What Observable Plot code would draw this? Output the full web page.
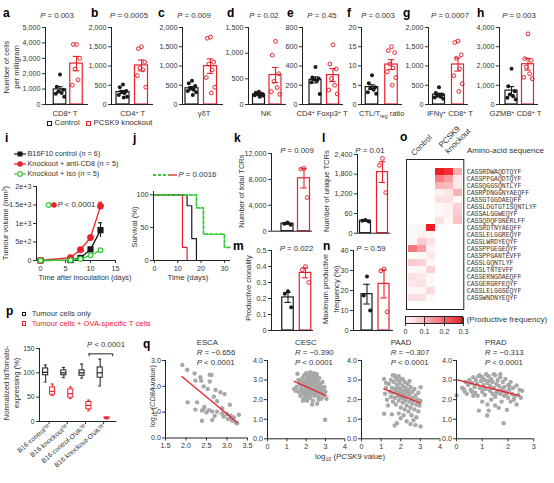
<!DOCTYPE html>
<html><head><meta charset="utf-8">
<script src="https://cdn.jsdelivr.net/npm/d3@7"></script>
<script src="https://cdn.jsdelivr.net/npm/@observablehq/plot@0.6"></script>
<style>
body{margin:0;background:#fff;}
#fig{position:relative;width:554px;height:483px;overflow:hidden;background:#fff;font-family:"Liberation Sans",Arial,sans-serif;color:#333;}
.t{position:absolute;white-space:nowrap;}
sup,sub{font-size:68%;line-height:0;}
sup{vertical-align:0.45em;} sub{vertical-align:-0.3em;}
</style></head><body><div id="fig"></div>
<script>
// ---------------- DATA ----------------
// a–h: cells per mg (control vs PCSK9 knockout)
const aCtrl = [1950, 1150, 950, 850, 750, 700, 500], aKO = [3900, 3900, 3000, 2300, 1600, 1250];
const bCtrl = [520, 450, 350, 330, 300, 250, 200, 180], bKO = [1500, 1450, 1100, 950, 900, 750, 450];
const cCtrl = [620, 550, 480, 420, 380, 350, 320, 250], cKO = [1750, 1720, 1100, 1050, 900, 700, 450, 300];
const dCtrl = [250, 230, 210, 200, 190, 180, 170, 150], dKO = [1230, 960, 600, 450, 330, 250, 200];
const eCtrl = [390, 280, 270, 260, 250, 230, 110], eKO = [620, 420, 370, 270, 200, 150, 110];
const fCtrl = [7.6, 5.5, 4.5, 4.2, 3.8, 3.2, 2.8], fKO = [15, 14, 13.5, 10.5, 9.5, 8.5, 7, 5];
const gCtrl = [450, 300, 260, 230, 200, 180, 150], gKO = [1650, 1610, 1290, 1200, 930, 750, 540, 340];
const hCtrl = [1860, 950, 690, 520, 430, 350, 260], hKO = [3670, 2380, 2290, 1950, 1600, 1410, 1340];
const aTicks = [0, 1000, 2000, 3000, 4000, 5000], bTicks = [0, 500, 1000, 1500, 2000];
const cTicks = [0, 500, 1000, 1500, 2000], dTicks = [0, 500, 1000, 1500], eTicks = [0, 200, 400, 600, 800];
const fTicks = [0, 5, 10, 15, 20], gTicks = [0, 500, 1000, 1500, 2000], hTicks = [0, 1000, 2000, 3000, 4000];
// k–n: TCR sequencing
const kCtrl = [1350, 1150, 1000], kKO = [9700, 9600, 5200];
const lCtrl = [400, 380, 360], lKO = [2280, 2070, 1240];
const mCtrl = [0.245, 0.23, 0.145], mKO = [0.40, 0.38, 0.30];
const nCtrl = [27, 17.5, 10], nKO = [30.8, 29.8, 9.3];
const kTicks = [0, 4000, 8000, 12000];
const lTicks = [0, 600, 1200, 1800, 2400], lTickLabels = ["0", "60", "1,200", "1,800", "2,400"];
const mTicks = [0, 0.1, 0.2, 0.3, 0.4, 0.5], nTicks = [0, 10, 20, 30, 40];
// i: tumour growth
const iDays = [0, 6, 8, 10, 12];
const iCtrlMean = [0, 10, 70, 300, 820], iCtrlSem = [0, 8, 15, 50, 200];
const iCd8Mean = [0, 80, 290, 620, 1470], iCd8Sem = [0, 15, 30, 60, 105];
const iIsoMean = [0, 10, 40, 140, 280], iIsoSem = [0, 5, 10, 25, 40];
const iXTicks = [0, 5, 10, 15], iYTicks = [0, 500, 1000, 1500, 2000];
// j: survival
const jRedT = [0, 12, 14], jRedS = [100, 20, 0];
const jBlackT = [0, 14, 16, 18], jBlackS = [100, 83.3, 33.3, 0];
const jIsoT = [0, 18, 21, 30, 32.5], jIsoS = [100, 80, 40, 20, 20];
const jXTicks = [0, 10, 20, 30], jYTicks = [0, 50, 100];
// o: heatmap
const seqs = ["CASSRDWAQDTQYF","CASSPPGAQDTQYF","CASSQGGSQNTLYF","CASRPDNGGNYAEQFF","CASSGTGGDAEQFF","CASSLDGTGTISQNTLYF","CASSALGGWEQYF","CASSQDQFSNERLFF","CASSRDTNYAEQFF","CASSLELGGREQYF","CASSLWRDYEQYF","CASSPPGEGEQYF","CASSPPGANTEVFF","CASSLGQNTLYF","CASSLTNTEVFF","CASSERNGDAEQFF","CASGERGRFEQYF","CASSLELGGSEQYF","CASSWNDNYEQYF"];
const hmCols = ["Control 1", "Control 2", "Control 3", "Knockout 1", "Knockout 2", "Knockout 3"];
const ctl1 = [0,0,0,0,0,0,0,0,0.01,0.01,0.01,0.18,0.0,0.07,0.01,0.04,0.03,0.01,0.04];
const ctl2 = [0,0,0,0,0,0,0,0,0.01,0.02,0.07,0.13,0.01,0.06,0.01,0.03,0.04,0.01,0.04];
const ctl3 = [0,0,0,0,0,0,0,0,0.30,0.01,0.04,0.02,0.03,0.01,0.06,0.01,0.01,0.05,0.01];
const ko1 = [0.30,0.17,0.10,0.02,0.04,0.01,0.01,0.04,0,0,0,0,0,0,0,0,0,0,0];
const ko2 = [0.28,0.13,0.09,0.03,0.04,0.02,0.02,0.01,0,0,0,0,0,0,0,0,0,0,0];
const ko3 = [0.11,0.03,0.03,0.10,0.01,0.06,0.07,0.08,0,0,0,0,0,0,0,0,0,0,0];
const cbTicks = [0, 0.1, 0.2, 0.3];
// p: box plots
const pGroups = ["B16 control\u1D40\u1D3F", "B16 knockout\u1D40\u1D3F", "B16 control-OVA\u1D40\u1D3F", "B16 knockout-OVA\u1D40\u1D3F"];
const pTumMin = [81, 90, 89, 73], pTumQ1 = [95, 95, 94, 90], pTumMed = [101, 100, 100, 100], pTumQ3 = [109, 105, 105, 111], pTumMax = [116, 111, 118, 128];
const pOvaMin = [53, 47, 22, 5], pOvaQ1 = [55, 49, 25, 6], pOvaMed = [62, 57, 33, 7], pOvaQ3 = [70, 66, 40, 8.5], pOvaMax = [77, 71, 44, 9];
const pYTicks = [0, 50, 100, 150];
// q: correlations
const escaPts = [[1.91,2.83],[2.03,2.64],[2.21,2.50],[2.58,2.45],[2.62,2.44],[2.35,2.35],[2.23,2.22],[2.37,2.22],[2.58,2.19],[2.43,2.00],[2.53,1.90],[2.72,1.86],[2.84,1.77],[2.94,1.70],[2.68,1.60],[2.27,1.38],[2.76,1.42],[3.07,1.29],[2.23,1.10],[2.39,1.06],[2.43,1.12],[2.56,1.08],[2.64,1.03],[2.50,0.99],[2.76,1.02],[2.88,0.95],[3.00,0.93],[3.09,0.86],[2.92,0.83],[3.17,0.80],[3.29,0.90],[2.39,0.67],[2.64,0.70],[3.02,0.74],[3.13,0.67],[3.21,0.60],[3.25,0.57],[2.04,1.38],[2.88,1.15],[3.10,0.75],[2.45,1.20],[2.70,0.85]];
const cescPts = [[1.38,2.55],[1.55,3.32],[1.6,2.4],[1.65,2.8],[1.7,2.2],[1.72,2.95],[1.75,2.6],[1.8,3.1],[1.8,2.35],[1.85,2.75],[1.85,2.05],[1.9,3.25],[1.9,2.5],[1.92,2.9],[1.95,2.2],[1.98,2.65],[2.0,3.35],[2.0,3.0],[2.0,2.4],[2.02,2.8],[2.05,2.55],[2.05,1.95],[2.08,3.15],[2.1,2.7],[2.1,2.3],[2.12,2.95],[2.15,3.3],[2.15,2.45],[2.18,2.6],[2.2,3.4],[2.2,2.85],[2.2,2.1],[2.22,3.1],[2.25,2.5],[2.25,2.7],[2.28,2.95],[2.3,3.25],[2.3,2.3],[2.32,2.6],[2.35,3.05],[2.35,2.8],[2.38,2.4],[2.4,3.2],[2.4,2.65],[2.42,2.2],[2.45,2.9],[2.45,2.5],[2.48,3.0],[2.5,2.75],[2.5,2.3],[2.52,3.15],[2.55,2.6],[2.58,2.85],[2.6,2.4],[2.6,2.95],[2.62,2.15],[2.65,2.7],[2.68,3.1],[2.7,2.5],[2.72,2.3],[2.75,2.8],[2.78,2.05],[2.8,2.6],[2.82,2.35],[2.85,2.9],[2.88,2.5],[2.9,2.2],[2.95,2.65],[3.0,2.4],[3.05,2.04],[2.98,0.97],[2.31,1.75],[1.83,1.95],[2.57,1.79],[1.5,2.65],[1.45,2.45],[1.7,2.5],[2.0,2.15],[2.75,2.05],[2.35,1.95],[1.95,2.0],[2.65,2.0],[1.6,3.0],[1.75,2.9],[2.05,3.2],[2.55,3.3],[2.4,3.35],[1.9,2.3],[2.15,2.2],[2.6,2.55]];
const paadPts = [[1.15,3.06],[1.15,1.28],[1.69,3.23],[1.69,0.68],[3.01,0.63],[3.01,2.63],[1.2,2.3],[1.25,2.6],[1.3,2.0],[1.4,2.8],[1.45,2.4],[1.5,2.15],[1.5,3.0],[1.55,2.6],[1.6,1.9],[1.6,2.35],[1.65,2.9],[1.7,2.55],[1.7,2.1],[1.75,3.1],[1.75,1.75],[1.8,2.4],[1.8,2.75],[1.85,2.2],[1.85,3.0],[1.9,1.95],[1.9,2.6],[1.95,2.35],[1.95,2.85],[2.0,1.6],[2.0,2.1],[2.0,2.5],[2.05,3.05],[2.05,2.3],[2.1,1.85],[2.1,2.7],[2.15,2.05],[2.15,2.45],[2.2,2.9],[2.2,1.5],[2.2,2.25],[2.25,2.6],[2.25,1.95],[2.3,2.4],[2.3,1.7],[2.35,2.8],[2.35,2.15],[2.4,1.4],[2.4,2.5],[2.45,1.9],[2.45,2.3],[2.5,2.65],[2.5,1.6],[2.55,2.1],[2.55,1.2],[2.6,2.4],[2.6,1.8],[2.65,2.0],[2.65,0.95],[2.7,2.55],[2.7,1.5],[2.75,2.2],[2.8,1.75],[2.8,1.1],[2.85,2.0],[2.9,1.4],[2.9,2.35],[2.95,1.7],[3.0,1.95],[1.55,1.25],[1.8,0.8],[2.0,1.05],[2.3,0.9],[2.5,0.75],[2.75,0.7],[1.9,1.3],[2.15,1.2],[1.35,1.7],[1.25,2.85],[1.6,3.25],[1.9,3.2],[2.1,3.05],[2.45,2.95]];
const pradPts = [[0.0,2.21],[0.32,2.41],[0.22,2.6],[0.35,2.9],[0.45,2.75],[0.5,3.0],[0.55,2.5],[0.6,2.85],[0.65,3.15],[0.7,2.65],[0.72,2.35],[0.75,3.0],[0.8,2.8],[0.82,2.2],[0.85,3.2],[0.87,1.44],[0.9,2.6],[0.95,2.95],[1.0,2.4],[1.0,3.15],[1.05,2.75],[1.1,2.25],[1.1,3.0],[1.15,2.55],[1.19,1.19],[1.2,2.85],[1.25,1.44],[1.25,3.2],[1.3,2.45],[1.3,2.7],[1.35,3.05],[1.4,2.3],[1.4,2.9],[1.45,2.6],[1.5,3.25],[1.5,2.15],[1.55,2.8],[1.6,2.45],[1.6,3.0],[1.64,1.58],[1.65,2.7],[1.7,2.3],[1.7,3.15],[1.75,2.55],[1.8,2.9],[1.83,0.8],[1.85,2.2],[1.85,2.65],[1.9,3.05],[1.9,2.4],[1.96,1.48],[2.0,2.75],[2.0,2.1],[2.05,2.5],[2.1,2.9],[2.1,1.9],[2.15,2.3],[2.2,2.6],[2.22,2.0],[2.25,2.15],[2.33,1.75],[2.33,2.72],[2.45,2.5],[2.4,2.25],[2.5,2.1],[1.5,1.7],[1.75,1.9],[1.2,1.75],[1.0,1.9],[0.65,2.2],[0.4,2.3],[1.35,2.0],[1.95,2.3],[1.45,3.3],[1.15,3.3],[0.9,3.25],[1.7,3.3],[1.25,2.95],[0.6,2.4],[1.55,2.35],[1.8,2.45],[2.05,2.7],[1.05,2.55],[2.55,2.45],[0.28,2.55]];
const escaFit = [[1.9, 2.38], [3.25, 0.6]], cescFit = [[1.38, 2.93], [3.05, 2.2]];
const paadFit = [[1.13, 2.55], [3.0, 1.82]], pradFit = [[0, 3.02], [2.42, 2.21]];

// ---------------- STYLE / HELPERS ----------------
const fig = document.getElementById("fig");
const BLACK = "#1a1a1a", RED = "#e8212b", GREEN = "#35cc35", GREY = "#a8a8a8", HEATRED = "#ee1c25";
const FONT = '"Liberation Sans", Arial, sans-serif';
const baseStyle = {fontFamily: FONT, fontSize: "7.2px", color: "#333", background: "transparent", overflow: "visible"};

function place(el, left, top) {
  el.style.position = "absolute"; el.style.left = left + "px"; el.style.top = top + "px";
  fig.append(el); return el;
}
function txt(html, x, yc, o = {}) {
  const size = o.size || 7.5;
  const d = document.createElement("div");
  d.className = "t"; d.innerHTML = html;
  d.style.fontSize = size + "px"; d.style.lineHeight = size + "px";
  d.style.left = x + "px"; d.style.top = (yc - size / 2) + "px";
  if (o.bold) d.style.fontWeight = "bold";
  if (o.color) d.style.color = o.color;
  const a = o.anchor || "start";
  if (a === "middle") d.style.transform = "translateX(-50%)";
  if (a === "end") d.style.transform = "translateX(-100%)";
  fig.append(d); return d;
}
function vtxt(html, cx, cy, o = {}) {
  const size = o.size || 7.5;
  const d = document.createElement("div");
  d.className = "t"; d.innerHTML = html;
  d.style.fontSize = size + "px"; d.style.lineHeight = (o.lh || size) + "px";
  d.style.textAlign = "center";
  d.style.left = cx + "px"; d.style.top = cy + "px";
  d.style.transform = "translate(-50%,-50%) rotate(-90deg)";
  fig.append(d); return d;
}
function letter(ch, x, baseline) {
  const size = 12;
  const d = txt(ch, x, 0, {size, bold: true, color: "#000"});
  d.style.top = (baseline - 0.85 * size) + "px";
}
function glyph(x, y, w, h, inner) {
  const s = document.createElementNS("http://www.w3.org/2000/svg", "svg");
  s.setAttribute("width", w); s.setAttribute("height", h);
  s.innerHTML = inner; s.style.overflow = "visible";
  return place(s, x, y);
}
function box(x, y, w, h, color) {
  const d = document.createElement("div");
  d.style.width = w + "px"; d.style.height = h + "px";
  d.style.border = "1px solid " + color; d.style.boxSizing = "border-box";
  return place(d, x, y);
}

// ---------------- BAR + DOT PANELS ----------------
function barPanel(c) {
  const mL = 30, mR = 3, mT = 4, mB = 4;
  const H = c.bottom - c.top;
  const groups = [{pos: c.cC, vals: c.ctrl, color: BLACK}, {pos: c.cK, vals: c.ko, color: RED}];
  const summ = groups.map(g => {
    const m = d3.mean(g.vals), s = d3.deviation(g.vals) / Math.sqrt(g.vals.length);
    return {pos: g.pos, color: g.color, mean: m, lo: m - s, hi: m + s};
  });
  const spread = [0, -3.2, 3.2, -1.6, 1.6, -4.2, 4.2, 0.8];
  const pts = g => [...g.vals].sort(d3.descending).map((v, i) => ({x: g.pos + spread[i % spread.length], y: v}));
  const bw = c.bw, cap = 3.2;
  const svg = Plot.plot({
    width: mL + c.W + mR, height: mT + H + mB,
    marginLeft: mL, marginRight: mR, marginTop: mT, marginBottom: mB,
    style: baseStyle,
    x: {domain: [0, c.W], axis: null},
    y: {domain: [0, c.yMax], ticks: c.yTicks, tickFormat: c.yFmt || d3.format(","), tickSize: 3, tickPadding: 2, label: null},
    marks: [
      Plot.rect(summ, {x1: d => d.pos - bw / 2, x2: d => d.pos + bw / 2, y1: 0, y2: "mean", fill: "white", stroke: d => d.color, strokeWidth: 1.2}),
      Plot.ruleX(summ, {x: "pos", y1: "lo", y2: "hi", stroke: d => d.color, strokeWidth: 1.1}),
      Plot.ruleY(summ, {y: "hi", x1: d => d.pos - cap, x2: d => d.pos + cap, stroke: d => d.color, strokeWidth: 1.1}),
      Plot.ruleY(summ, {y: "lo", x1: d => d.pos - cap, x2: d => d.pos + cap, stroke: d => d.color, strokeWidth: 1.1}),
      Plot.dot(pts(groups[0]), {x: "x", y: "y", r: 2, fill: BLACK}),
      Plot.dot(pts(groups[1]), {x: "x", y: "y", r: 1.9, stroke: RED, strokeWidth: 1, fill: "none"}),
      Plot.ruleX([0], {stroke: "#222"}),
      Plot.ruleY([0], {stroke: "#222"})
    ]
  });
  place(svg, c.axisX - mL, c.top - mT);
}
const R1T = 27, R1B = 104;
barPanel({ctrl: aCtrl, ko: aKO, yMax: 5000, yTicks: aTicks, axisX: 45, top: R1T, bottom: R1B, W: 43, cC: 14.5, cK: 31, bw: 12.5});
barPanel({ctrl: bCtrl, ko: bKO, yMax: 2000, yTicks: bTicks, axisX: 111, top: R1T, bottom: R1B, W: 42, cC: 11.5, cK: 30, bw: 13});
barPanel({ctrl: cCtrl, ko: cKO, yMax: 2000, yTicks: cTicks, axisX: 182, top: R1T, bottom: R1B, W: 41, cC: 9.5, cK: 28, bw: 13});
barPanel({ctrl: dCtrl, ko: dKO, yMax: 1500, yTicks: dTicks, axisX: 248, top: R1T, bottom: R1B, W: 38, cC: 10.5, cK: 27, bw: 12});
barPanel({ctrl: eCtrl, ko: eKO, yMax: 800, yTicks: eTicks, axisX: 302, top: R1T, bottom: R1B, W: 41, cC: 13, cK: 30.5, bw: 12});
barPanel({ctrl: fCtrl, ko: fKO, yMax: 20, yTicks: fTicks, axisX: 361, top: R1T, bottom: R1B, W: 41, cC: 10.5, cK: 30, bw: 12.5});
barPanel({ctrl: gCtrl, ko: gKO, yMax: 2000, yTicks: gTicks, axisX: 428, top: R1T, bottom: R1B, W: 40, cC: 10.5, cK: 29.5, bw: 12});
barPanel({ctrl: hCtrl, ko: hKO, yMax: 4000, yTicks: hTicks, axisX: 499, top: R1T, bottom: R1B, W: 39, cC: 12, cK: 28.5, bw: 12});
barPanel({ctrl: kCtrl, ko: kKO, yMax: 12000, yTicks: kTicks, axisX: 270.7, top: 153.3, bottom: 231, W: 41, cC: 16, cK: 32.5, bw: 12});
barPanel({ctrl: lCtrl, ko: lKO, yMax: 2400, yTicks: lTicks, yFmt: d => lTickLabels[lTicks.indexOf(d)], axisX: 356.7, top: 154, bottom: 232.7, W: 33, cC: 8, cK: 25, bw: 11});
barPanel({ctrl: mCtrl, ko: mKO, yMax: 0.5, yTicks: mTicks, yFmt: d => d === 0 ? "0" : d.toFixed(1), axisX: 270.7, top: 250, bottom: 330, W: 42, cC: 16.5, cK: 34, bw: 11.5});
barPanel({ctrl: nCtrl, ko: nKO, yMax: 40, yTicks: nTicks, axisX: 352.7, top: 250, bottom: 330, W: 40, cC: 13.5, cK: 30.5, bw: 11});

// ---------------- i: tumour growth ----------------
{
  const mL = 20, mR = 4, mT = 4, mB = 16;
  const series = [
    {mean: iCtrlMean, sem: iCtrlSem, color: BLACK, symbol: "square", fill: BLACK, r: 2.8},
    {mean: iCd8Mean, sem: iCd8Sem, color: RED, symbol: "circle", fill: RED, r: 2.8},
    {mean: iIsoMean, sem: iIsoSem, color: GREEN, symbol: "circle", fill: "white", r: 2.3}
  ];
  const marks = series.flatMap(s => {
    const rows = iDays.map((d, k) => ({day: d, v: s.mean[k], lo: s.mean[k] - s.sem[k], hi: s.mean[k] + s.sem[k]}));
    const eb = rows.filter(r => r.hi > r.v);
    return [
      Plot.line(rows, {x: "day", y: "v", stroke: s.color, strokeWidth: 1.3}),
      Plot.ruleX(eb, {x: "day", y1: "lo", y2: "hi", stroke: s.color, strokeWidth: 1.1}),
      Plot.ruleY(eb, {y: "hi", x1: d => d.day - 0.4, x2: d => d.day + 0.4, stroke: s.color, strokeWidth: 1.1}),
      Plot.dot(rows, {x: "day", y: "v", symbol: s.symbol, r: s.r, fill: s.fill, stroke: s.color, strokeWidth: 1.2})
    ];
  });
  const svg = Plot.plot({
    width: mL + 79 + mR, height: mT + 74 + mB, marginLeft: mL, marginRight: mR, marginTop: mT, marginBottom: mB,
    style: baseStyle,
    x: {domain: [-0.8, 15], ticks: iXTicks, tickSize: 3, tickPadding: 2, label: null},
    y: {domain: [0, 2000], ticks: iYTicks, tickFormat: ",", tickSize: 3, tickPadding: 2, label: null},
    marks: [Plot.ruleX([-0.8], {stroke: "#222"}), Plot.ruleY([0], {stroke: "#222"}), ...marks]
  });
  place(svg, 36 - mL, 186 - mT);
}

// ---------------- j: survival ----------------
{
  const mL = 20, mR = 4, mT = 4, mB = 16;
  const mk = (T, S) => T.map((t, i) => ({t, s: S[i]}));
  const svg = Plot.plot({
    width: mL + 77 + mR, height: mT + 69 + mB, marginLeft: mL, marginRight: mR, marginTop: mT, marginBottom: mB,
    style: baseStyle,
    x: {domain: [-0.4, 32.6], ticks: jXTicks, tickSize: 3, tickPadding: 2, label: null},
    y: {domain: [0, 105], ticks: jYTicks, tickSize: 3, tickPadding: 2, label: null},
    marks: [
      Plot.line(mk(jRedT, jRedS), {x: "t", y: "s", curve: "step-after", stroke: RED, strokeWidth: 1.2}),
      Plot.line(mk(jBlackT, jBlackS), {x: "t", y: "s", curve: "step-after", stroke: BLACK, strokeWidth: 1.2}),
      Plot.line(mk(jIsoT, jIsoS), {x: "t", y: "s", curve: "step-after", stroke: GREEN, strokeWidth: 1.8, strokeDasharray: "3,2"}),
      Plot.ruleX([-0.4], {stroke: "#222"}), Plot.ruleY([0], {stroke: "#222"})
    ]
  });
  place(svg, 153 - mL, 191 - mT);
}

// ---------------- o: heatmap ----------------
{
  const colVals = [ctl1, ctl2, ctl3, ko1, ko2, ko3];
  const cells = hmCols.flatMap((col, j) => seqs.map((s, i) => ({col, seq: s, v: colVals[j][i]})));
  const svg = Plot.plot({
    width: 57.3 + 2, height: 150 + 2, marginLeft: 1, marginRight: 1, marginTop: 1, marginBottom: 1,
    style: {...baseStyle, fontFamily: '"Liberation Mono", "DejaVu Sans Mono", monospace', fontSize: "6.5px"},
    x: {domain: hmCols, axis: null, padding: 0},
    y: {domain: seqs, axis: "right", tickSize: 0, tickPadding: 3, label: null, padding: 0},
    color: {type: "linear", domain: [0, 0.3], range: ["#ffffff", HEATRED], interpolate: "rgb"},
    marks: [Plot.cell(cells, {x: "col", y: "seq", fill: "v", inset: 0}), Plot.frame({stroke: "#222"})]
  });
  place(svg, 405, 158.3);
  const cb = Plot.legend({
    color: {type: "linear", domain: [0, 0.3], range: ["#ffffff", HEATRED], interpolate: "rgb"},
    label: null, width: 58.3, height: 23, marginTop: 2, marginBottom: 14, marginLeft: 0, marginRight: 0,
    tickSize: 2, ticks: cbTicks, tickFormat: d => d === 0 ? "0" : d3.format(".1f")(d),
    style: {fontFamily: FONT, fontSize: "7.2px", color: "#333", background: "transparent", overflow: "visible"}
  });
  place(cb, 405, 316.7 - 2);
  box(405, 316.4, 58.3, 7.4, "#222");
}

// ---------------- p: box plots ----------------
{
  const mL = 20, mR = 4, mT = 4, mB = 40;
  const mkRows = (off, mn, q1, md, q3, mx) => pGroups.map((g, i) => ({pos: i + off, min: mn[i], q1: q1[i], med: md[i], q3: q3[i], max: mx[i]}));
  const tum = mkRows(-0.19, pTumMin, pTumQ1, pTumMed, pTumQ3, pTumMax);
  const ova = mkRows(0.19, pOvaMin, pOvaQ1, pOvaMed, pOvaQ3, pOvaMax);
  const bw = 0.14, cw = 0.08;
  const boxMarks = (rows, color) => [
    Plot.ruleX(rows, {x: "pos", y1: "min", y2: "q1", stroke: color}),
    Plot.ruleX(rows, {x: "pos", y1: "q3", y2: "max", stroke: color}),
    Plot.ruleY(rows, {y: "min", x1: d => d.pos - cw, x2: d => d.pos + cw, stroke: color}),
    Plot.ruleY(rows, {y: "max", x1: d => d.pos - cw, x2: d => d.pos + cw, stroke: color}),
    Plot.rect(rows, {x1: d => d.pos - bw, x2: d => d.pos + bw, y1: "q1", y2: "q3", fill: "white", stroke: color, strokeWidth: 1}),
    Plot.ruleY(rows, {y: "med", x1: d => d.pos - bw, x2: d => d.pos + bw, stroke: color, strokeWidth: 1.2})
  ];
  const br = {x1: 2.2, x2: 3.5, y: 139, drop: 133};
  const svg = Plot.plot({
    width: mL + 77.4 + mR, height: mT + 73 + mB, marginLeft: mL, marginRight: mR, marginTop: mT, marginBottom: mB,
    style: {...baseStyle, fontSize: "6.8px"},
    x: {domain: [-0.53, 3.73], ticks: [0, 1, 2, 3], tickFormat: i => pGroups[i], tickRotate: -40, tickSize: 3, tickPadding: 1, label: null},
    y: {domain: [0, 150], ticks: pYTicks, tickSize: 3, tickPadding: 2, label: null},
    marks: [
      ...boxMarks(tum, BLACK), ...boxMarks(ova, RED),
      Plot.ruleY([br], {y: "y", x1: "x1", x2: "x2", stroke: "#222"}),
      Plot.ruleX([br], {x: "x1", y1: "drop", y2: "y", stroke: "#222"}),
      Plot.ruleX([br], {x: "x2", y1: "drop", y2: "y", stroke: "#222"}),
      Plot.ruleX([-0.53], {stroke: "#222"}), Plot.ruleY([0], {stroke: "#222"})
    ]
  });
  place(svg, 39.3 - mL, 347.7 - mT);
}

// ---------------- q: scatter panels ----------------
function scatterPanel(c) {
  const mL = 14, mR = 6, mT = 3, mB = 14;
  const svg = Plot.plot({
    width: mL + (c.right - c.left) + mR, height: mT + (c.bottom - c.top) + mB,
    marginLeft: mL, marginRight: mR, marginTop: mT, marginBottom: mB,
    style: baseStyle,
    x: {domain: c.xDom, ticks: c.xTicks, tickFormat: c.xFmt, tickSize: 3, tickPadding: 2, label: null},
    y: {domain: c.yDom, ticks: c.yTicks, tickSize: 3, tickPadding: 1.5, label: null},
    marks: [
      Plot.dot(c.pts, {x: d => d[0], y: d => d[1], r: 2.2, fill: GREY}),
      Plot.line(c.fit, {x: d => d[0], y: d => d[1], stroke: RED, strokeWidth: 1.3}),
      Plot.ruleX([c.xDom[0]], {stroke: "#222"}), Plot.ruleY([c.yDom[0]], {stroke: "#222"})
    ]
  });
  place(svg, c.left - mL, c.top - mT);
}
scatterPanel({pts: escaPts, fit: escaFit, xDom: [1.5, 3.5], xTicks: [1.5, 2, 2.5, 3, 3.5], xFmt: ".1f", yDom: [0, 3], yTicks: [0, 1, 2, 3], left: 165, right: 247, top: 360, bottom: 437.5});
scatterPanel({pts: cescPts, fit: cescFit, xDom: [0, 4], xTicks: [0, 1, 2, 3, 4], xFmt: "d", yDom: [0, 4], yTicks: [0, 1, 2, 3, 4], left: 266.7, right: 344, top: 360, bottom: 438.3});
scatterPanel({pts: paadPts, fit: paadFit, xDom: [0, 4], xTicks: [0, 1, 2, 3, 4], xFmt: "d", yDom: [0, 4], yTicks: [0, 1, 2, 3, 4], left: 360.5, right: 439, top: 360, bottom: 438.3});
scatterPanel({pts: pradPts, fit: pradFit, xDom: [0, 3], xTicks: [0, 1, 2, 3], xFmt: "d", yDom: [0, 4], yTicks: [0, 1, 2, 3, 4], left: 456, right: 533.3, top: 360, bottom: 438.3});

// ---------------- TEXT ----------------
[["a",3,17],["b",91,17],["c",158,17],["d",227,17],["e",287,17],["f",347,17],["g",403,17],["h",477,17],
 ["i",5,142],["j",133,142],["k",234,142],["l",322,142],["o",400,141],["m",233,250],["n",323,250],["p",6,315.5],["q",143,348]]
 .forEach(([ch, x, b]) => letter(ch, x, b));

const P = "<i>P</i>";
[[P + " = 0.003", 57], [P + " = 0.0005", 129], [P + " = 0.009", 194], [P + " = 0.02", 264],
 [P + " = 0.45", 322], [P + " = 0.003", 378], [P + " = 0.0007", 450], [P + " = 0.003", 519]]
 .forEach(([s, x]) => txt(s, x, 16, {size: 7.8, anchor: "middle"}));
[["CD8<sup>+</sup> T", 65], ["CD4<sup>+</sup> T", 132.7], ["γδT", 204], ["NK", 266], ["CD4<sup>+</sup> Foxp3<sup>+</sup> T", 322],
 ["CTL/T<sub>reg</sub> ratio", 381.7], ["IFNγ<sup>+</sup> CD8<sup>+</sup> T", 450], ["GZMB<sup>+</sup> CD8<sup>+</sup> T", 515.5]]
 .forEach(([s, x]) => txt(s, x, 113.3, {size: 7.6, anchor: "middle"}));
vtxt("Number of cells<br>per milligram", 12.3, 67, {size: 7.6, lh: 10});
box(47, 120.5, 5, 5, BLACK); txt("Control", 54.5, 123, {size: 7.8});
box(86, 120.5, 5, 5, RED); txt("PCSK9 knockout", 93.5, 123, {size: 7.8});

// i legend
glyph(14, 150, 12, 8, `<line x1="0" y1="4" x2="12" y2="4" stroke="${BLACK}" stroke-width="1.2"/><rect x="3.5" y="1.5" width="5" height="5" fill="${BLACK}"/>`);
glyph(14, 160, 12, 8, `<line x1="0" y1="4" x2="12" y2="4" stroke="${RED}" stroke-width="1.2"/><circle cx="6" cy="4" r="2.8" fill="${RED}"/>`);
glyph(14, 170, 12, 8, `<line x1="0" y1="4" x2="12" y2="4" stroke="${GREEN}" stroke-width="1.2"/><circle cx="6" cy="4" r="2.3" fill="white" stroke="${GREEN}" stroke-width="1.2"/>`);
txt("B16F10 control (<i>n</i> = 6)", 27.5, 154, {size: 7.3});
txt("Knockout + anti-CD8 (<i>n</i> = 5)", 27.5, 164, {size: 7.3});
txt("Knockout + Iso (<i>n</i> = 5)", 27.5, 174, {size: 7.3});
glyph(44.5, 201, 12, 8, `<circle cx="3.5" cy="4" r="2.3" fill="white" stroke="${GREEN}" stroke-width="1.2"/><circle cx="9" cy="4" r="2.8" fill="${RED}"/>`);
txt(P + " &lt; 0.0001", 57.5, 205, {size: 7.8});
vtxt("Tumour volume (mm<sup>3</sup>)", 6, 223, {size: 7.5});
txt("Time after inoculation (days)", 85, 278, {size: 7.4, anchor: "middle"});
// j legend
glyph(153, 171, 25, 8, `<line x1="0" y1="4" x2="17" y2="4" stroke="${GREEN}" stroke-width="1.8" stroke-dasharray="3,2"/><line x1="17" y1="4" x2="24" y2="4" stroke="${RED}" stroke-width="1.3"/>`);
txt(P + " = 0.0016", 178.5, 175, {size: 7.8});
vtxt("Survival (%)", 135, 227, {size: 7.6});
txt("Time (days)", 188, 278, {size: 7.8, anchor: "middle"});
// k–n
txt(P + " = 0.009", 297, 150.7, {size: 7.8, anchor: "middle"});
txt(P + " = 0.01", 370, 150.7, {size: 7.8, anchor: "middle"});
txt(P + " = 0.022", 296.5, 249, {size: 7.8, anchor: "middle"});
txt(P + " = 0.59", 371, 249, {size: 7.8, anchor: "middle"});
vtxt("Number of total TCRs", 241.7, 191, {size: 7.6});
vtxt("Number of unique TCRs", 326.7, 191, {size: 7.6});
vtxt("Productive clonality", 249.3, 288, {size: 7.6});
vtxt("Maximum productive<br>frequency (%)", 331, 289, {size: 7.6, lh: 11});
// o
{
  const c1 = txt("Control", 0, 0, {size: 8});
  c1.style.left = "409.7px"; c1.style.top = "151.7px"; c1.style.transformOrigin = "0 0"; c1.style.transform = "rotate(-45deg)";
  const c2 = txt("PCSK9<br>knockout", 0, 0, {size: 8});
  c2.style.lineHeight = "9px"; c2.style.left = "436.6px"; c2.style.top = "143.2px"; c2.style.transformOrigin = "0 0"; c2.style.transform = "rotate(-45deg)";
}
txt("Amino-acid sequence", 467, 151, {size: 8});
txt("(Productive frequency)", 466.7, 320, {size: 8});
// p
box(21.7, 311.8, 4.6, 4.6, BLACK); txt("Tumour cells only", 31.7, 314, {size: 7.6});
box(21.7, 321, 4.6, 4.6, RED); txt("Tumour cells + OVA-specific T cells", 31.7, 323.3, {size: 7.6, color: RED});
vtxt("Normalized tdTomato-<br>expressing (%)", 12, 383, {size: 7.6, lh: 10});
txt(P + " &lt; 0.0001", 106, 345, {size: 7.8, anchor: "middle"});
// q
[["ESCA", "−0.656", 196.7], ["CESC", "−0.390", 295], ["PAAD", "−0.307", 390.7], ["PRAD", "−0.313", 485]].forEach(([n, r, x]) => {
  txt(n, x, 343.3, {size: 7.8});
  txt("<i>R</i> = " + r, x, 352.9, {size: 7.8});
  txt(P + " &lt; 0.0001", x, 362.6, {size: 7.8});
});
vtxt("log<sub>10</sub> (<i>CD8A</i> value)", 153.3, 396, {size: 7.4});
txt("log<sub>10</sub> (<i>PCSK9</i> value)", 350, 457, {size: 7.8, anchor: "middle"});
</script></body></html>
